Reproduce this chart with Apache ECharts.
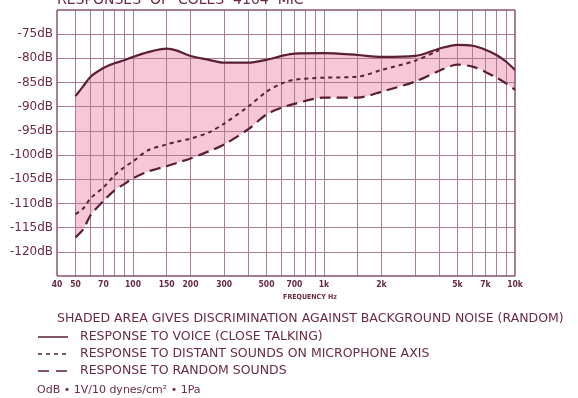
<!DOCTYPE html>
<html>
<head>
<meta charset="utf-8">
<script src="https://cdn.jsdelivr.net/npm/echarts@6/dist/echarts.min.js"></script>
<style>
html,body{margin:0;padding:0;background:#fff;}
#c{width:578px;height:398px;}
</style>
</head>
<body>
<div id="c"></div>
<script>
// ---- data ----
var freqs   = [50, 55, 60, 70, 80, 90, 100, 120, 150, 170, 200, 250, 300, 400, 500, 600, 700, 1000, 1500, 2000, 3000, 4000, 5000, 6000, 7000, 8000, 9000, 10000];
var voice   = [-87.8, -85.7, -83.8, -82.0, -81.0, -80.4, -79.7, -78.7, -78.0, -78.4, -79.5, -80.3, -80.9, -80.9, -80.3, -79.5, -79.0, -78.9, -79.3, -79.7, -79.5, -78.0, -77.2, -77.4, -78.2, -79.3, -80.7, -82.4];
var distant = [-112.2, -111.0, -108.9, -106.7, -104.2, -102.5, -101.3, -99.0, -97.8, -97.2, -96.6, -95.3, -93.5, -90.0, -86.9, -85.2, -84.4, -84.0, -83.8, -82.4, -80.5, -78.3, null, null, null, null, null, null];
var random  = [-117.0, -115.3, -112.4, -109.5, -107.3, -106.0, -104.8, -103.4, -102.3, -101.6, -100.7, -99.2, -97.8, -94.7, -91.6, -90.2, -89.4, -88.1, -88.1, -86.9, -84.8, -82.6, -81.3, -81.7, -82.8, -84.0, -85.2, -86.5];

var gridFreqs  = [50, 60, 70, 80, 90, 100, 150, 200, 300, 400, 500, 600, 700, 800, 900, 1000, 1500, 2000, 3000, 4000, 5000, 6000, 7000, 8000, 9000];
var tickFreqs  = [40, 50, 70, 100, 150, 200, 300, 500, 700, 1000, 2000, 5000, 7000, 10000];
var tickLabels = ['40', '50', '70', '100', '150', '200', '300', '500', '700', '1k', '2k', '5k', '7k', '10k'];
var dbTicks    = [-120, -115, -110, -105, -100, -95, -90, -85, -80, -75];
var xRange     = [40, 10000];
var yRange     = [-125, -70];

var TXT = '#6a2c3d';
var LINE = '#5a1f30';
var GRID = '#ad7d8e';
var FRAME = '#8c5566';

function pairs(vals) { return freqs.map(function (f, i) { return vals[i] == null ? null : [f, vals[i]]; }).filter(function (p) { return p; }); }

function freqLabel(f) {
  var k = tickFreqs.indexOf(f);
  return { show: k >= 0, formatter: k >= 0 ? tickLabels[k] : '', position: 'start', distance: 4,
           color: TXT, fontSize: 8.5, fontWeight: 'bold', fontFamily: 'DejaVu Sans Condensed, DejaVu Sans' };
}
var gridMarks = [];
gridFreqs.forEach(function (f) { gridMarks.push({ xAxis: f, label: freqLabel(f) }); });
dbTicks.forEach(function (v) { gridMarks.push({ yAxis: v, label: { show: false } }); });
// frame
xRange.forEach(function (f) { gridMarks.push({ xAxis: f, label: freqLabel(f), lineStyle: { color: FRAME, width: 1.5 } }); });
yRange.forEach(function (v) { gridMarks.push({ yAxis: v, label: { show: false }, lineStyle: { color: FRAME, width: 1.5 } }); });

var chart = echarts.init(document.getElementById('c'), null, { renderer: 'canvas' });
chart.setOption({
  animation: false,
  backgroundColor: '#fff',
  grid: { left: 57, right: 63, top: 10, bottom: 122, show: false },
  xAxis: {
    type: 'log', logBase: 10, min: xRange[0], max: xRange[1],
    axisLine: { show: false }, axisTick: { show: false }, axisLabel: { show: false }, splitLine: { show: false }
  },
  yAxis: {
    type: 'value', min: yRange[0], max: yRange[1], interval: 5,
    axisLine: { show: false }, axisTick: { show: false }, splitLine: { show: false },
    axisLabel: {
      margin: 4, color: TXT, fontSize: 12, fontFamily: 'DejaVu Sans',
      formatter: function (v) { return (v === yRange[0] || v === yRange[1]) ? '' : v + 'dB'; }
    }
  },
  series: [
    // pink fill from voice curve down to the axis bottom
    { name: 'voiceFill', type: 'line', data: pairs(voice), smooth: 0.3, symbol: 'none', z: 1, silent: true,
      lineStyle: { opacity: 0 }, areaStyle: { color: '#f5c7d7', opacity: 1, origin: 'start' } },
    // white fill below random curve, leaving the shaded band between them
    { name: 'randomFill', type: 'line', data: pairs(random), smooth: 0.3, symbol: 'none', z: 2, silent: true,
      lineStyle: { opacity: 0 }, areaStyle: { color: '#ffffff', opacity: 1, origin: 'start' } },
    // grid lines, frame and frequency labels, drawn over the shading
    { name: 'gridHolder', type: 'line', data: pairs(voice), symbol: 'none', z: 3, silent: true,
      lineStyle: { opacity: 0 },
      markLine: { silent: true, symbol: ['none', 'none'], animation: false, z: 3,
        lineStyle: { color: GRID, width: 1, type: 'solid' }, emphasis: { disabled: true }, data: gridMarks } },
    { name: 'voice', type: 'line', data: pairs(voice), smooth: 0.3, symbol: 'none', z: 5,
      lineStyle: { color: LINE, width: 2.2, type: 'solid' } },
    { name: 'distant', type: 'line', data: pairs(distant), smooth: 0.3, symbol: 'none', z: 5,
      lineStyle: { color: LINE, width: 2, type: [4, 4] } },
    { name: 'random', type: 'line', data: pairs(random), smooth: 0.3, symbol: 'none', z: 5,
      lineStyle: { color: LINE, width: 2.2, type: [11, 6] } }
  ],
  graphic: [
    { type: 'text', left: 57, top: -7, style: { text: 'RESPONSES  OF  COLES  4104  MIC', fill: TXT, font: '14px DejaVu Sans' } },
    { type: 'text', x: 310, y: 297, style: { text: 'FREQUENCY Hz', fill: TXT, font: 'bold 7px DejaVu Sans Condensed, DejaVu Sans', align: 'center', verticalAlign: 'middle' } },
    { type: 'text', x: 57, y: 319, style: { text: 'SHADED AREA GIVES DISCRIMINATION AGAINST BACKGROUND NOISE (RANDOM)', fill: TXT, font: '12.5px DejaVu Sans', verticalAlign: 'middle' } },
    { type: 'line', shape: { x1: 38, y1: 337, x2: 68, y2: 337 }, style: { stroke: LINE, lineWidth: 1.5 } },
    { type: 'text', x: 80, y: 337, style: { text: 'RESPONSE TO VOICE (CLOSE TALKING)', fill: TXT, font: '12.5px DejaVu Sans', verticalAlign: 'middle' } },
    { type: 'line', shape: { x1: 38, y1: 354, x2: 68, y2: 354 }, style: { stroke: LINE, lineWidth: 1.5, lineDash: [4, 4] } },
    { type: 'text', x: 80, y: 354, style: { text: 'RESPONSE TO DISTANT SOUNDS ON MICROPHONE AXIS', fill: TXT, font: '12.5px DejaVu Sans', verticalAlign: 'middle' } },
    { type: 'line', shape: { x1: 38, y1: 371, x2: 68, y2: 371 }, style: { stroke: LINE, lineWidth: 1.5, lineDash: [11, 7] } },
    { type: 'text', x: 80, y: 371, style: { text: 'RESPONSE TO RANDOM SOUNDS', fill: TXT, font: '12.5px DejaVu Sans', verticalAlign: 'middle' } },
    { type: 'text', x: 37, y: 390, style: { text: 'OdB • 1V/10 dynes/cm² • 1Pa', fill: TXT, font: '11px DejaVu Sans', verticalAlign: 'middle' } }
  ]
});
</script>
</body>
</html>
